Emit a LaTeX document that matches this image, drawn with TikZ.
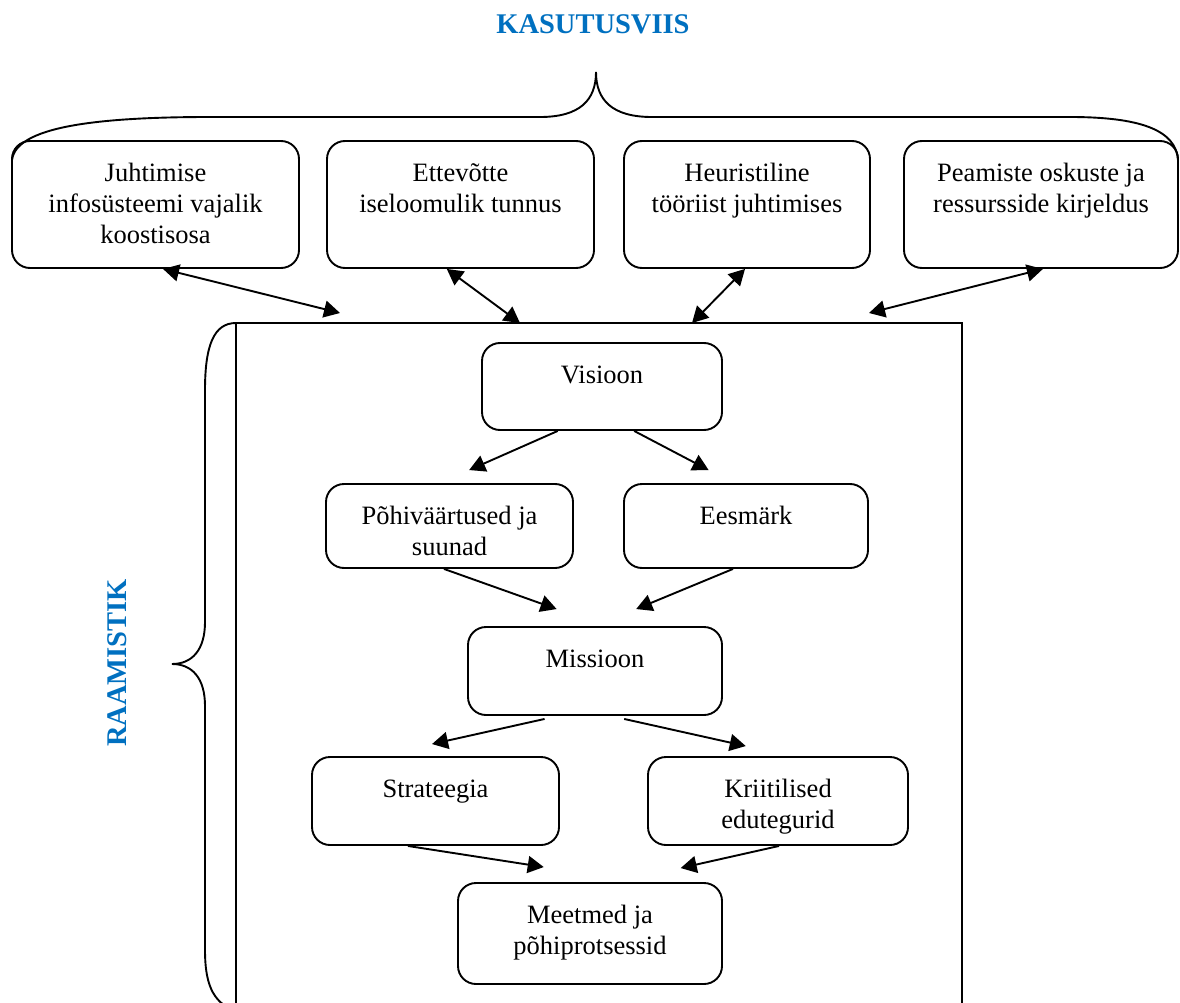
\documentclass[tikz,border=0pt]{standalone}
\usepackage{fontspec}
\setmainfont{Liberation Serif}
\usetikzlibrary{arrows.meta,calc}
\definecolor{titleblue}{HTML}{0070C0}
% box contents: text hangs from the top edge of a fixed-size box
\newcommand\cellbox[3]{\parbox[c][#2pt][t]{#1pt}{\centering\vspace*{18.5pt}\strut #3}}
\begin{document}
\begin{tikzpicture}[x=1pt,y=-1pt,
  every node/.style={font=\fontsize{26.5}{31}\selectfont},
  cell/.style={draw, rounded corners=18pt, line width=1.9pt, inner sep=0pt},
  link/.style={line width=1.9pt, -{Triangle[length=16pt,width=17pt]}},
  duallink/.style={line width=1.9pt, {Triangle[length=16pt,width=17pt]}-{Triangle[length=16pt,width=17pt]}},
  heading/.style={font=\fontsize{28.5}{34}\selectfont\bfseries, text=titleblue, inner sep=0pt},
  brace/.style={line width=1.9pt}]
\useasboundingbox (0,0) rectangle (1180,1003);

% headings
\node[heading] (kas) at (593,24) {KASUTUSVIIS};
\node[heading, rotate=90] (raam) at (117,663) {RAAMISTIK};

% upper brace
\draw[brace] (12,160) .. controls (16,128) and (90,117) .. (210,117)
  -- (540,117) .. controls (580,117) and (596,100) .. (596,72)
  .. controls (596,100) and (612,117) .. (652,117)
  -- (1070,117) .. controls (1140,117) and (1176,130) .. (1178,160);

% usage boxes
\node[cell] (b1) at (155.5,204.5) {\cellbox{287}{127}{Juhtimise\\infosüsteemi vajalik\\koostisosa}};
\node[cell] (b2) at (460.5,204.5) {\cellbox{267}{127}{Ettevõtte\\iseloomulik tunnus}};
\node[cell] (b3) at (747,204.5) {\cellbox{246}{127}{Heuristiline\\tööriist juhtimises}};
\node[cell] (b4) at (1041,204.5) {\cellbox{274}{127}{Peamiste oskuste ja\\ressursside kirjeldus}};

% framework frame and its brace
\coordinate (ftl) at (236,323);
\coordinate (ftr) at (962,323);
\draw[line width=1.9pt] (236,1010) -- (ftl) -- (ftr) -- (962,1010);
\draw[brace] (ftl) .. controls (214,323) and (205,345) .. (205,390)
  -- (205,622) .. controls (205,650) and (192,664) .. (172,664)
  .. controls (192,664) and (205,678) .. (205,706)
  -- (205,950) .. controls (205,990) and (216,1003) .. (236,1012);

% endpoints at the frame
\coordinate (k1) at (340,313);
\coordinate (k2) at (520,323);
\coordinate (k3) at (692,323);
\coordinate (k4) at (869,313);

\draw[duallink] ($(b1.south west)!0.526!(b1.south east)$) -- (k1);
\draw[duallink] ($(b2.south west)!0.449!(b2.south east)$) -- (k2);
\draw[duallink] ($(b3.south west)!0.492!(b3.south east)$) -- (k3);
\draw[duallink] ($(b4.south west)!0.507!(b4.south east)$) -- (k4);

% framework boxes
\node[cell] (vis) at (602,386.5) {\cellbox{240}{87}{Visioon}};
\node[cell] (pohi) at (449.5,526) {\cellbox{247}{84}{Põhiväärtused ja\\suunad}};
\node[cell] (ees) at (746,526) {\cellbox{244}{84}{Eesmärk}};
\node[cell] (mis) at (595,671) {\cellbox{254}{88}{Missioon}};
\node[cell] (str) at (435.5,801) {\cellbox{247}{88}{Strateegia}};
\node[cell] (kri) at (778,801) {\cellbox{260}{88}{Kriitilised\\edutegurid}};
\node[cell] (mee) at (590,933.5) {\cellbox{264}{101}{Meetmed ja\\põhiprotsessid}};

% framework connectors
\draw[link] ($(vis.south west)!0.317!(vis.south east)$) -- ($(pohi.north west)!0.579!(pohi.north east)+(0,-13)$);
\draw[link] ($(vis.south west)!0.633!(vis.south east)$) -- ($(ees.north west)!0.348!(ees.north east)+(0,-13)$);
\draw[link] ($(pohi.south west)!0.478!(pohi.south east)$) -- ($(mis.north west)!0.350!(mis.north east)+(0,-17)$);
\draw[link] ($(ees.south west)!0.447!(ees.south east)$) -- ($(mis.north west)!0.661!(mis.north east)+(0,-17)$);
\draw[link] ($(mis.south west)!0.303!(mis.south east)+(0,3)$) -- ($(str.north west)!0.486!(str.north east)+(0,-12)$);
\draw[link] ($(mis.south west)!0.614!(mis.south east)+(0,3)$) -- ($(kri.north west)!0.377!(kri.north east)+(0,-10)$);
\draw[link] ($(str.south west)!0.389!(str.south east)$) -- ($(mee.north west)!0.326!(mee.north east)+(0,-15)$);
\draw[link] ($(kri.south west)!0.504!(kri.south east)$) -- ($(mee.north west)!0.841!(mee.north east)+(0,-14)$);
\end{tikzpicture}
\end{document}
